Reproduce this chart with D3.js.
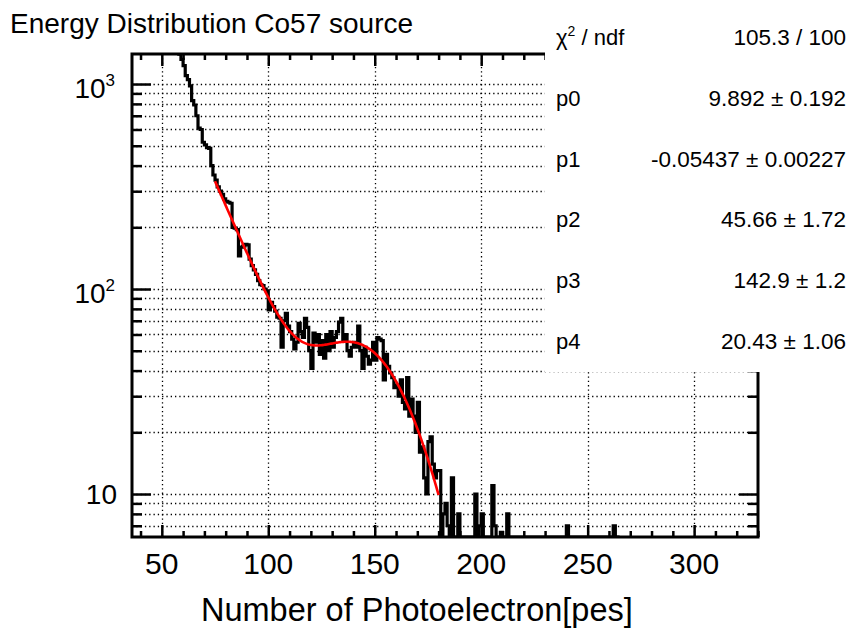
<!DOCTYPE html>
<html>
<head>
<meta charset="utf-8">
<script src="https://cdn.jsdelivr.net/npm/d3@7"></script>
<style>
  body { margin: 0; background: #fff; }
  svg { display: block; font-family: "Liberation Sans", Arial, Helvetica, sans-serif; }
</style>
</head>
<body>
<div id="chart"></div>
<script>
// histogram contents, one entry per 1 pe bin, starting at firstBin
var firstBin = 57;
var counts = [
  1500, 1400, 1320, 1230, 1100, 1050, 980, 830, 790, 700,      // 57-66
  610, 600, 520, 505, 490, 485, 400, 360, 340, 315,            // 67-76
  300, 290, 275, 268, 265, 262, 200, 198, 195, 145,            // 77-86
  160, 162, 165, 164, 140, 130, 124, 118, 110, 105,            // 87-96
  104, 100, 98, 79, 86, 82, 78, 73, 72, 52,                    // 97-106
  70, 76, 66, 62, 57, 51, 55, 68, 62, 58,                      // 107-116
  72, 65, 50, 41, 61, 55, 60, 48, 56, 46,                      // 117-126
  60, 50, 62, 52, 58, 62, 69, 72, 56, 60,                      // 127-136
  50, 47, 52, 55, 52, 66, 50, 41, 52, 47,                      // 137-146
  43, 45, 55, 45, 58, 57, 56, 36, 48, 42,                      // 147-156
  39, 37, 33, 34, 30, 36, 28, 26, 37, 24,                      // 157-166
  29, 24, 20, 28, 16, 17, 12, 10, 18, 19,                      // 167-176
  14, 12, 13, 13, 0, 8, 9, 7, 0, 12,                           // 177-186
  0, 0, 8, 0, 0, 0, 0, 0, 0, 0,                                // 187-196
  10, 0, 7, 8, 0, 0, 0, 0, 11, 7,                              // 197-206
  0, 0, 6.5, 0, 0, 8, 0, 0, 0                                  // 207-215
];
// isolated entries far in the tail
var tailBins = [240, 262];
var tailCounts = [7, 7];

// expo + gaus fit, parameters from the stats box
var fitParams = [9.892, -0.05437, 45.66, 142.9, 20.43];
var fitRange = [75, 180];

var statLabels = ['χ2 / ndf', 'p0', 'p1', 'p2', 'p3', 'p4'];
var statValues = ['105.3 / 100', '9.892 ± 0.192', '-0.05437 ± 0.00227',
                  '45.66 ± 1.72', '142.9 ± 1.2', '20.43 ± 1.06'];

var xMajorTicks = [50, 100, 150, 200, 250, 300];
var xMinorTicks = d3.range(40, 331, 10).filter(function(v) { return v % 50 !== 0; });
var yMajorTicks = [10, 100, 1000];
var yMinorTicks = [7, 8, 9, 20, 30, 40, 50, 60, 70, 80, 90, 200, 300, 400, 500, 600, 700, 800, 900];

var width = 856, height = 635;
var frame = { left: 132, right: 758, top: 54, bottom: 537 };

var x = d3.scaleLinear().domain([36, 330]).range([frame.left, frame.right]);
var y = d3.scaleLog().domain([6.17, 1401]).range([frame.bottom, frame.top]);

var svg = d3.select('#chart').append('svg')
            .attr('width', width)
            .attr('height', height);

svg.append('defs').append('clipPath')
   .attr('id', 'frameClip')
   .append('rect')
   .attr('x', frame.left)
   .attr('y', frame.top)
   .attr('width', frame.right - frame.left)
   .attr('height', frame.bottom - frame.top);

// dotted grid
var grid = svg.append('g')
              .attr('stroke', '#000')
              .attr('stroke-width', 1.3)
              .attr('stroke-dasharray', '1.3,3');

grid.selectAll('line.gy')
    .data(yMajorTicks.concat(yMinorTicks)).enter()
    .append('line')
    .attr('x1', frame.left).attr('x2', frame.right)
    .attr('y1', function(d) { return Math.round(y(d)) + 0.5; })
    .attr('y2', function(d) { return Math.round(y(d)) + 0.5; });

grid.selectAll('line.gx')
    .data(xMajorTicks).enter()
    .append('line')
    .attr('y1', frame.top).attr('y2', frame.bottom)
    .attr('x1', function(d) { return Math.round(x(d)) + 0.5; })
    .attr('x2', function(d) { return Math.round(x(d)) + 0.5; });

// build the full bin list, zero where nothing was filled
var lastBin = d3.max(tailBins) + 3;
var bins = d3.range(firstBin, lastBin).map(function(b) {
  var i = b - firstBin;
  var v = i < counts.length ? counts[i] : 0;
  var t = tailBins.indexOf(b);
  if (t >= 0) v = tailCounts[t];
  return { lo: b, hi: b + 1, v: v };
});

var yMin = y.domain()[0];
function yClamp(v) {
  return v > yMin ? y(v) : frame.bottom;
}

var histPoints = [];
bins.forEach(function(bin) {
  histPoints.push([x(bin.lo), yClamp(bin.v)]);
  histPoints.push([x(bin.hi), yClamp(bin.v)]);
});

svg.append('path')
   .attr('clip-path', 'url(#frameClip)')
   .attr('d', d3.line()(histPoints))
   .attr('fill', 'none')
   .attr('stroke', '#000')
   .attr('stroke-width', 3.2)
   .attr('stroke-linejoin', 'miter');

// fit function drawn over its range
function fitValue(t) {
  var p = fitParams;
  var z = (t - p[3]) / p[4];
  return Math.exp(p[0] + p[1] * t) + p[2] * Math.exp(-0.5 * z * z);
}

var fitPoints = d3.range(0, 201).map(function(i) {
  var t = fitRange[0] + (fitRange[1] - fitRange[0]) * i / 200;
  return [x(t), y(fitValue(t))];
});

svg.append('path')
   .attr('clip-path', 'url(#frameClip)')
   .attr('d', d3.line()(fitPoints))
   .attr('fill', 'none')
   .attr('stroke', '#ff0000')
   .attr('stroke-width', 2.6);

// axes: ticks on all four sides pointing inward
function styleAxis(g) {
  g.select('.domain').remove();
  g.selectAll('.tick line').attr('stroke', '#000').attr('stroke-width', 2.5);
  g.selectAll('.tick text').remove();
}

svg.append('g')
   .attr('transform', 'translate(0,' + frame.bottom + ')')
   .call(d3.axisBottom(x).tickValues(xMajorTicks).tickSize(-12))
   .call(styleAxis);
svg.append('g')
   .attr('transform', 'translate(0,' + frame.bottom + ')')
   .call(d3.axisBottom(x).tickValues(xMinorTicks).tickSize(-6))
   .call(styleAxis);
svg.append('g')
   .attr('transform', 'translate(0,' + frame.top + ')')
   .call(d3.axisTop(x).tickValues(xMajorTicks).tickSize(-12))
   .call(styleAxis);
svg.append('g')
   .attr('transform', 'translate(0,' + frame.top + ')')
   .call(d3.axisTop(x).tickValues(xMinorTicks).tickSize(-6))
   .call(styleAxis);

svg.append('g')
   .attr('transform', 'translate(' + frame.left + ',0)')
   .call(d3.axisLeft(y).tickValues(yMajorTicks).tickSize(-19))
   .call(styleAxis);
svg.append('g')
   .attr('transform', 'translate(' + frame.left + ',0)')
   .call(d3.axisLeft(y).tickValues(yMinorTicks).tickSize(-10))
   .call(styleAxis);
svg.append('g')
   .attr('transform', 'translate(' + frame.right + ',0)')
   .call(d3.axisRight(y).tickValues(yMajorTicks).tickSize(-19))
   .call(styleAxis);
svg.append('g')
   .attr('transform', 'translate(' + frame.right + ',0)')
   .call(d3.axisRight(y).tickValues(yMinorTicks).tickSize(-10))
   .call(styleAxis);

// frame
svg.append('rect')
   .attr('x', frame.left)
   .attr('y', frame.top)
   .attr('width', frame.right - frame.left)
   .attr('height', frame.bottom - frame.top)
   .attr('fill', 'none')
   .attr('stroke', '#000')
   .attr('stroke-width', 3);

// x tick labels
svg.selectAll('text.xlab')
   .data(xMajorTicks).enter()
   .append('text')
   .attr('x', function(d) { return x(d); })
   .attr('y', 574)
   .attr('text-anchor', 'middle')
   .attr('font-size', 30)
   .text(function(d) { return d; });

// y tick labels, powers of ten with superscripts
yMajorTicks.forEach(function(d) {
  var power = Math.round(Math.log10(d));
  if (power === 1) {
    svg.append('text')
       .attr('x', 117)
       .attr('y', y(d) + 10)
       .attr('text-anchor', 'end')
       .attr('font-size', 28)
       .text('10');
  } else {
    var t = svg.append('text')
               .attr('x', 115)
               .attr('y', y(d) + 14)
               .attr('text-anchor', 'end')
               .attr('font-size', 28);
    t.append('tspan').text('10');
    t.append('tspan').attr('dy', -12).attr('font-size', 17).text(power);
  }
});

// axis title and histogram title
svg.append('text')
   .attr('x', 201)
   .attr('y', 621)
   .attr('font-size', 32.5)
   .text('Number of Photoelectron[pes]');

svg.append('text')
   .attr('x', 10)
   .attr('y', 33)
   .attr('font-size', 28)
   .text('Energy Distribution Co57 source');

// stats box, borderless, covering the top right of the pad
svg.append('rect')
   .attr('x', 545)
   .attr('y', 0)
   .attr('width', width - 545)
   .attr('height', 372)
   .attr('fill', '#fff');

statLabels.forEach(function(label, i) {
  var base = 45 + i * 60.8;
  var t = svg.append('text')
             .attr('x', 556)
             .attr('y', base)
             .attr('font-size', 22);
  if (label.indexOf('χ2') === 0) {
    t.append('tspan').text('χ');
    t.append('tspan').attr('dy', -9).attr('font-size', 14).text('2');
    t.append('tspan').attr('dy', 9).text(label.slice(2));
  } else {
    t.text(label);
  }
  svg.append('text')
     .attr('x', 846)
     .attr('y', base)
     .attr('text-anchor', 'end')
     .attr('font-size', 22.5)
     .text(statValues[i]);
});
</script>
</body>
</html>
